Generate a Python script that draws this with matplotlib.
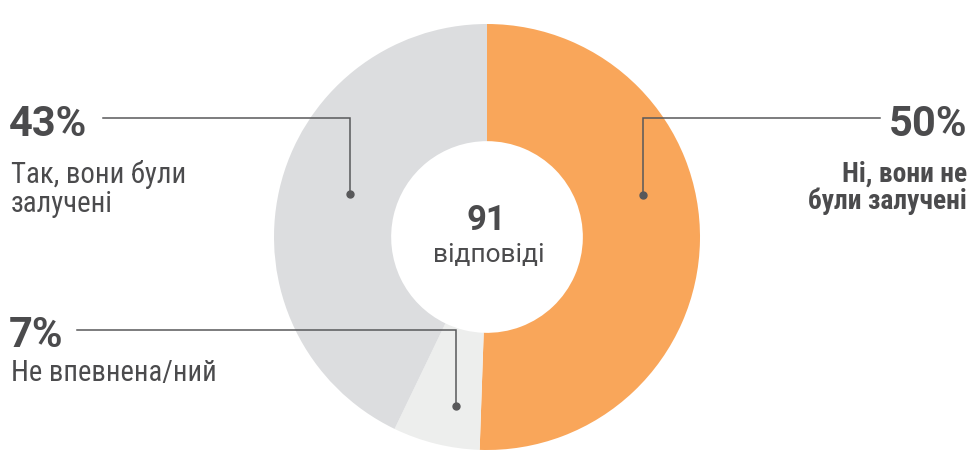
import matplotlib
matplotlib.use("Agg")
import matplotlib.pyplot as plt

# survey answers (counts out of 91)
labels = ["Ні, вони не були залучені", "Не впевнена/ний", "Так, вони були залучені"]
counts = [46, 6, 39]
percents = ["50%", "7%", "43%"]
total_label = "91"
total_caption = "відповіді"
colors = ["#F9A65A", "#EDEEED", "#DCDDDF"]

TEXT = "#4B4B4D"
LINE = "#58585A"
COND = ["Roboto Condensed", "DejaVu Sans"]

plt.rcParams["font.family"] = ["Roboto", "DejaVu Sans"]

W, H = 971, 461
fig = plt.figure(figsize=(W / 100, H / 100), dpi=100)
ax = fig.add_axes([0, 0, 1, 1])

# donut: orange first, clockwise from the top
cx, cy, r = 487, H - 237, 213
ax.pie(counts, colors=colors, startangle=90, counterclock=False,
       center=(cx, cy), radius=r, wedgeprops=dict(width=r * 0.55, linewidth=0),
       frame=True)
ax.set_xlim(0, W)
ax.set_ylim(0, H)
ax.set_aspect("equal")
ax.axis("off")

# centre label
ax.text(cx - 1, H - 230, total_label, ha="center", va="baseline", fontsize=25,
        fontweight="bold", color=TEXT)
ax.text(cx + 2, H - 262, total_caption, ha="center", va="baseline", fontsize=19,
        color=TEXT)


def leader(x0, x1, y0, y1):
    ax.plot([x0, x1, x1], [H - y0, H - y0, H - y1], color=LINE, lw=1.1,
            solid_joinstyle="miter")
    ax.plot([x1], [H - y1], "o", color=LINE, ms=5)


leader(103, 350, 118, 194)
leader(880, 643, 118, 195)
leader(77, 456, 330, 406)

# left top: 43%
ax.text(9, H - 136, percents[2], ha="left", va="baseline", fontsize=30,
        fontweight="bold", color=TEXT)
ax.text(11, H - 183, "Так, вони були", ha="left", va="baseline",
        fontsize=20.7, color=TEXT, family=COND)
ax.text(11, H - 212, "залучені", ha="left", va="baseline",
        fontsize=20.7, color=TEXT, family=COND)

# right: 50%
ax.text(967, H - 136, percents[0], ha="right", va="baseline", fontsize=30,
        fontweight="bold", color=TEXT)
ax.text(967, H - 182, "Ні, вони не", ha="right", va="baseline",
        fontsize=19.8, fontweight="bold", color=TEXT, family=COND)
ax.text(967, H - 209, "були залучені", ha="right", va="baseline",
        fontsize=19.8, fontweight="bold", color=TEXT, family=COND)

# left bottom: 7%
ax.text(9, H - 347, percents[1], ha="left", va="baseline", fontsize=30,
        fontweight="bold", color=TEXT)
ax.text(11, H - 381, labels[1], ha="left", va="baseline", fontsize=20.6,
        color=TEXT, family=COND)

fig.savefig("out.png", dpi=100)
